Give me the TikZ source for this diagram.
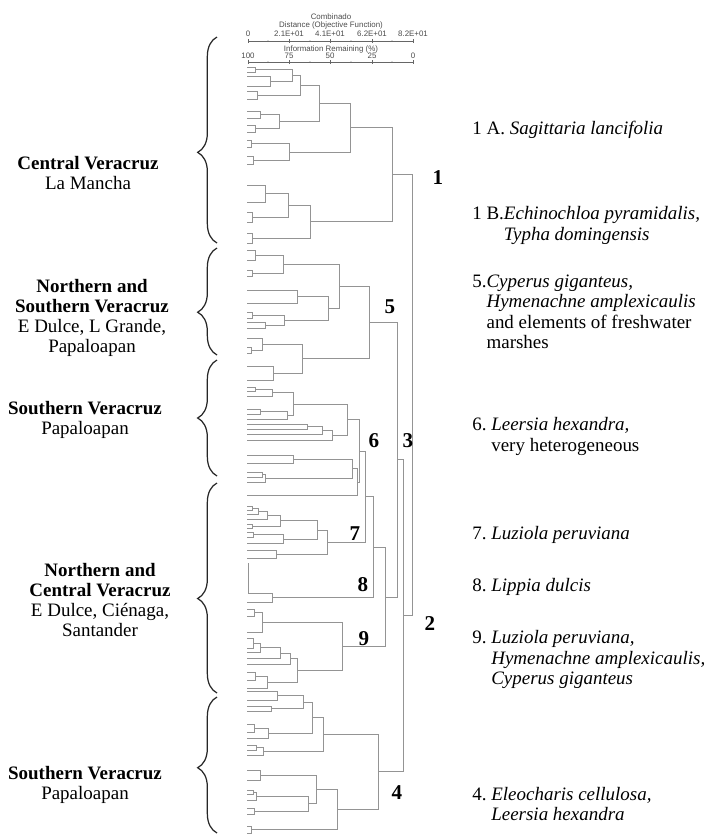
\documentclass[tikz,border=0pt]{standalone}
\usepackage{fontspec}
\setmainfont{Liberation Serif}
\newfontfamily\axisfont{Liberation Sans}
\usetikzlibrary{decorations.pathreplacing}
\frenchspacing
\tikzset{branch/.style={black!42, line width=0.5pt},
  bracket/.style={decorate, decoration={brace, amplitude=11pt}, black!85, line width=0.7pt},
  every node/.style={inner sep=0pt},
  axistext/.style={font=\axisfont\fontsize{4.5}{5}\selectfont, black!70},
  grp/.style={align=center},
  entry/.style={anchor=west},
  clus/.style={font=\fontsize{12}{13}\selectfont\bfseries}}

\begin{document}
\begin{tikzpicture}[x=0.02cm, y=-0.02cm, font=\fontsize{10.8}{11.4}\selectfont]
  \useasboundingbox (0,0) rectangle (717,836);
   \begin{scope}
    \node[axistext] (comb) at (331,17) {Combinado};
    \node[axistext] (dist) at (331,25) {Distance (Objective Function)};
    \node[axistext] (info) at (331,49) {Information Remaining (\%)};
    \draw[black!60, line width=0.4pt] (248,41) -- (413,41);
    \draw[black!60, line width=0.4pt] (248,62) -- (413,62);
    \foreach \x/\d/\p in {248/0/100, 289/2.1E+01/75, 330/4.1E+01/50, 372/6.2E+01/25, 413/8.2E+01/0} {
      \draw[black!60, line width=0.4pt] (\x,39) -- (\x,43) (\x,60) -- (\x,64);
      \node[axistext] at (\x,34) {\d};
      \node[axistext] at (\x,56) {\p};
    }
    \foreach \x in {268,310,351,392} {
      \fill[black!60] (\x,41) circle (0.7) (\x,62) circle (0.7);
    }
   \end{scope}
   \begin{scope}[branch]
    \draw (247,67) -| (255,72) -- (247,72);
    \draw (247,76) -| (270,86) -- (247,86);
    \draw (255,69.5) -| (292,81) -- (270,81);
    \draw (247,91) -| (257,99) -- (247,99);
    \draw (292,75) -| (300,95) -- (257,95);
    \draw (247,111) -| (260,118) -- (247,118);
    \draw (247,125) -| (255,132) -- (247,132);
    \draw (260,114.5) -| (279,128.5) -- (255,128.5);
    \draw (300,85) -| (319,121.5) -- (279,121.5);
    \draw (247,140) -| (251,147) -- (247,147);
    \draw (247,156) -| (253,164) -- (247,164);
    \draw (251,143.5) -| (289,160) -- (253,160);
    \draw (319,103) -| (350,152) -- (289,152);
    \draw (247,185) -| (265,202) -- (247,202);
    \draw (247,212) -| (252,222) -- (247,222);
    \draw (265,193.5) -| (288,217) -- (252,217);
    \draw (247,233) -| (252,243) -- (247,243);
    \draw (288,205) -| (310,238) -- (252,238);
    \draw (350,127.5) -| (392,221.5) -- (310,221.5);
    \draw (247,250) -| (255,260) -- (247,260);
    \draw (247,270) -| (252,276) -- (247,276);
    \draw (255,255) -| (283,273) -- (252,273);
    \draw (247,290) -| (297,303) -- (247,303);
    \draw (247,312) -| (252,318) -- (247,318);
    \draw (247,322) -| (265,328) -- (247,328);
    \draw (252,315) -| (284,325) -- (265,325);
    \draw (297,296.5) -| (328,320) -- (284,320);
    \draw (283,264) -| (339,308) -- (328,308);
    \draw (247,347) -| (251,353) -- (247,353);
    \draw (247,338) -| (262,350) -- (251,350);
    \draw (247,366) -| (273,380) -- (247,380);
    \draw (262,344) -| (302,373) -- (273,373);
    \draw (339,286) -| (369,358.5) -- (302,358.5);
    \draw (247,387) -| (255,391) -- (247,391);
    \draw (255,389) -| (272,396) -- (247,396);
    \draw (247,409) -| (260,414) -- (247,414);
    \draw (260,411.5) -| (287,419) -- (247,419);
    \draw (272,392.5) -| (293,415) -- (287,415);
    \draw (247,424) -| (307,429) -- (247,429);
    \draw (307,426.5) -| (322,434) -- (247,434);
    \draw (322,430) -| (332,440) -- (247,440);
    \draw (293,404) -| (347,435) -- (332,435);
    \draw (247,455) -| (293,463) -- (247,463);
    \draw (247,472) -| (262,477) -- (247,477);
    \draw (262,474.5) -| (265,482) -- (247,482);
    \draw (293,459) -| (352,478) -- (265,478);
    \draw (352,468.5) -| (357,495) -- (247,495);
    \draw (347,419.5) -| (359,482) -- (357,482);
    \draw (247,506) -| (252,510) -- (247,510);
    \draw (252,508) -| (258,514) -- (247,514);
    \draw (258,511) -| (267,519) -- (247,519);
    \draw (247,524) -| (252,528) -- (247,528);
    \draw (267,515) -| (280,526) -- (252,526);
    \draw (247,532) -| (253,537) -- (247,537);
    \draw (253,534.5) -| (283,543) -- (247,543);
    \draw (280,520.5) -| (317,539) -- (283,539);
    \draw (247,550) -| (276,558) -- (247,558);
    \draw (317,530) -| (327,554) -- (276,554);
    \draw (248,563) -- (248,593);
    \draw (248,593) -| (272,602) -- (247,602);
    \draw (247,609) -| (254,616) -- (247,616);
    \draw (254,612.5) -| (262,632) -- (247,632);
    \draw (247,638) -| (253,648) -- (247,648);
    \draw (253,643) -| (260,652) -- (247,652);
    \draw (260,647.5) -| (280,658) -- (247,658);
    \draw (280,653) -| (290,664) -- (247,664);
    \draw (247,672) -| (255,680) -- (247,680);
    \draw (255,676) -| (267,688) -- (247,688);
    \draw (290,658.5) -| (297,682) -- (267,682);
    \draw (262,622) -| (342,670) -- (297,670);
    \draw (247,691) -| (277,700) -- (247,700);
    \draw (247,706) -| (271,711) -- (247,711);
    \draw (277,695.5) -| (303,708.5) -- (271,708.5);
    \draw (247,724) -| (254,732) -- (247,732);
    \draw (254,728) -| (268,738) -- (247,738);
    \draw (303,702) -| (312,733) -- (268,733);
    \draw (247,745) -| (256,750) -- (247,750);
    \draw (256,747.5) -| (263,755) -- (247,755);
    \draw (312,717.5) -| (323,751) -- (263,751);
    \draw (247,770) -| (260,780) -- (247,780);
    \draw (247,790) -| (253,794) -- (247,794);
    \draw (253,792) -| (256,800) -- (247,800);
    \draw (247,808) -| (254,814) -- (247,814);
    \draw (256,796) -| (308,811) -- (254,811);
    \draw (260,775) -| (316,803.5) -- (308,803.5);
    \draw (247,826) -| (251,833) -- (247,833);
    \draw (316,789) -| (337,829.5) -- (251,829.5);
    \draw (323,734) -| (378,809) -- (337,809);
    \draw (359,451) -| (365,542) -- (327,542);
    \draw (365,496.5) -| (373,597.5) -- (272,597.5);
    \draw (373,547) -| (385,646) -- (342,646);
    \draw (369,322) -| (397,597) -- (385,597);
    \draw (397,459.5) -| (403,771.5) -- (378,771.5);
    \draw (392,174.5) -| (412,615.5) -- (403,615.5);
   \end{scope}
   \node[clus] (n1) at (438,178) {1};
   \node[clus] (n5) at (390,307) {5};
   \node[clus] (n6) at (374,441) {6};
   \node[clus] (n3) at (408,441) {3};
   \node[clus] (n7) at (355,534) {7};
   \node[clus] (n8) at (363,585) {8};
   \node[clus] (n9) at (364,639) {9};
   \node[clus] (n2) at (430,624) {2};
   \node[clus] (n4) at (397,793) {4};
   \draw[bracket, decoration={aspect=0.44}] (217,243) -- (217,37);
   \draw[bracket, decoration={aspect=0.4}] (217,355) -- (217,248);
   \draw[bracket, decoration={aspect=0.5}] (217,476) -- (217,360);
   \draw[bracket, decoration={aspect=0.45}] (217,693) -- (217,483);
   \draw[bracket, decoration={aspect=0.48}] (217,833) -- (217,697);
   \node[grp] (lamancha) at (88,173) {\textbf{Central Veracruz}\\La Mancha};
   \node[grp] (lgrande) at (92,318) {\textbf{Northern and}\\\textbf{Southern Veracruz}\\E Dulce, L Grande,\\Papaloapan};
   \node[grp] (papaloapan) at (85,420) {\textbf{Southern Veracruz}\\Papaloapan};
   \node[grp] (cienaga) at (100,600) {\textbf{Northern and}\\\textbf{Central Veracruz}\\E Dulce, Ciénaga,\\Santander};
   \node[grp] (papaloapanb) at (85,785) {\textbf{Southern Veracruz}\\Papaloapan};
   \node[entry] (sagittaria) at (472,130) {1 A. \textit{Sagittaria lancifolia}};
   \node[entry] (echinochloa) at (472,226) {\begin{tabular}{@{}l@{}l@{}}1 B.&\textit{Echinochloa pyramidalis,}\\&\textit{Typha domingensis}\end{tabular}};
   \node[entry] (cyperus) at (472,314) {\begin{tabular}{@{}l@{}l@{}}5.&\textit{Cyperus giganteus,}\\&\textit{Hymenachne amplexicaulis}\\&and elements of freshwater\\&marshes\end{tabular}};
   \node[entry] (leersia) at (472,437) {\begin{tabular}{@{}l@{\hspace{0.25em}}l@{}}6.&\textit{Leersia hexandra,}\\&very heterogeneous\end{tabular}};
   \node[entry] (luziola) at (472,535) {7. \textit{Luziola peruviana}};
   \node[entry] (lippia) at (472,587) {8. \textit{Lippia dulcis}};
   \node[entry] (hymenachne) at (472,660) {\begin{tabular}{@{}l@{\hspace{0.25em}}l@{}}9.&\textit{Luziola peruviana,}\\&\textit{Hymenachne amplexicaulis,}\\&\textit{Cyperus giganteus}\end{tabular}};
   \node[entry] (eleocharis) at (472,806) {\begin{tabular}{@{}l@{\hspace{0.25em}}l@{}}4.&\textit{Eleocharis cellulosa,}\\&\textit{Leersia hexandra}\end{tabular}};
\end{tikzpicture}
\end{document}
